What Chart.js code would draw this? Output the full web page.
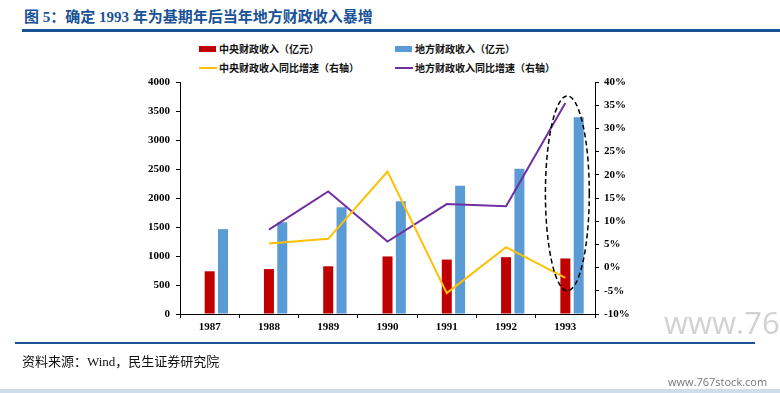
<!DOCTYPE html>
<html><head><meta charset="utf-8">
<script src="https://cdn.jsdelivr.net/npm/chart.js@4.4.1/dist/chart.umd.min.js"></script>
<style>
html,body{margin:0;padding:0;background:#fff;}
body{width:780px;height:393px;position:relative;overflow:hidden;font-family:"Liberation Serif","Noto Sans CJK SC",serif;}
#wrap{position:absolute;left:0;top:0;width:780px;height:393px;}
.t{position:absolute;white-space:nowrap;}
#title{left:24px;top:7px;font-size:15px;font-weight:700;color:#1a5296;line-height:20px;}
#rule1{position:absolute;left:22px;top:29px;width:758px;height:3px;background:#1a5296;}
#rule2{position:absolute;left:15px;top:342px;width:740px;height:2px;background:#1a5296;}
#src{left:22px;top:353px;font-size:13px;color:#111;line-height:18px;font-family:"Liberation Serif","Noto Sans CJK SC",serif;}
.lg{font-size:10px;font-weight:700;color:#111;line-height:14px;font-family:"Noto Sans CJK SC",sans-serif;}
.sw{position:absolute;}
#wm{left:664px;top:302px;font-size:31px;color:#d2d2d2;font-family:"Open Sans",sans-serif;line-height:40px;}
#wm2{left:668px;top:374px;font-size:11px;color:#777;font-family:"Open Sans",sans-serif;line-height:16px;}
#strip{position:absolute;left:0;top:389px;width:780px;height:4px;background:#cfdcea;}
</style></head>
<body>
<div id="title" class="t">图 5：确定 1993 年为基期年后当年地方财政收入暴增</div>
<div id="rule1"></div>
<div id="legend"></div>
<div id="wrap"><canvas id="c" width="780" height="393"></canvas></div>
<div id="rule2"></div>
<div id="src" class="t">资料来源：Wind，民生证券研究院</div>
<div id="wm" class="t">www.76</div>
<div id="wm2" class="t">www.767stock.com</div>
<div id="strip"></div>
<script>
// ---- data ----
const categories = ['1987','1988','1989','1990','1991','1992','1993'];
const centralRevenue = [736.29, 774.76, 822.52, 992.42, 938.25, 979.51, 957.51];
const localRevenue = [1463.06, 1582.48, 1842.38, 1944.68, 2211.23, 2503.86, 3391.44];
const centralGrowth = [null, 5.2, 6.2, 20.7, -5.5, 4.4, -2.2];
const localGrowth = [null, 8.2, 16.4, 5.6, 13.7, 13.2, 35.5];
const placeholderSeries = [null, null, null, null, null, null, null];
const seriesNames = ['中央财政收入（亿元）','地方财政收入（亿元）','中央财政收入同比增速（右轴）','地方财政收入同比增速（右轴）'];
const leftTicks = [0,500,1000,1500,2000,2500,3000,3500,4000];
const rightTicks = [-10,-5,0,5,10,15,20,25,30,35,40];
const highlightIndex = 6;
const highlightRange = [37, -5];

const colors = ['#C00000','#5B9BD5','#FFC000','#7030A0'];

// legend (HTML)
const legendPos = [[199,49,'box'],[395,49,'box'],[199,68,'line'],[395,68,'line']];
const lg = document.getElementById('legend');
seriesNames.forEach((n,i)=>{
  const [x,y,kind] = legendPos[i];
  const sw = document.createElement('div');
  sw.className='sw';
  if(kind==='box'){ sw.style.cssText=`left:${x}px;top:${y-3}px;width:17px;height:6px;background:${colors[i]};`; }
  else { sw.style.cssText=`left:${x}px;top:${y-1}px;width:18px;height:2px;background:${colors[i]};`; }
  lg.appendChild(sw);
  const t = document.createElement('div');
  t.className='t lg';
  t.style.left=(x+20)+'px'; t.style.top=(y-7)+'px';
  t.textContent=n;
  lg.appendChild(t);
});

const tickFont = {family:'"Liberation Serif", serif', size:11, weight:'bold'};

const ellipsePlugin = {
  id:'ellipse',
  afterDatasetsDraw(chart){
    const xs = chart.scales.x, ys = chart.scales.y1, ctx = chart.ctx;
    const cx = xs.getPixelForValue(highlightIndex) + 2;
    const top = ys.getPixelForValue(highlightRange[0]);
    const bot = ys.getPixelForValue(highlightRange[1]);
    const rx = (xs.getPixelForValue(1)-xs.getPixelForValue(0))*0.37;
    ctx.save();
    ctx.beginPath();
    ctx.setLineDash([5,3]);
    ctx.lineWidth=1.5;
    ctx.strokeStyle='#000';
    ctx.ellipse(cx,(top+bot)/2,rx,(bot-top)/2,0,0,Math.PI*2);
    ctx.stroke();
    ctx.restore();
  }
};

new Chart(document.getElementById('c'),{
  data:{
    labels:categories,
    datasets:[
      {type:'bar',label:'',data:placeholderSeries,backgroundColor:'#1F3864',yAxisID:'y',order:1},
      {type:'bar',label:seriesNames[0],data:centralRevenue,backgroundColor:colors[0],yAxisID:'y',order:1},
      {type:'bar',label:seriesNames[1],data:localRevenue,backgroundColor:colors[1],yAxisID:'y',order:1},
      {type:'line',label:seriesNames[2],data:centralGrowth,borderColor:colors[2],borderWidth:2,pointRadius:0,tension:0,yAxisID:'y1',order:0,spanGaps:false},
      {type:'line',label:seriesNames[3],data:localGrowth,borderColor:colors[3],borderWidth:2,pointRadius:0,tension:0,yAxisID:'y1',order:0,spanGaps:false}
    ]
  },
  options:{
    responsive:false,
    animation:false,
    devicePixelRatio:1,
    datasets:{bar:{barPercentage:0.75,categoryPercentage:0.675}},
    layout:{padding:{left:130,right:135,top:82,bottom:54}},
    plugins:{legend:{display:false},tooltip:{enabled:false}},
    scales:{
      x:{
        offset:true,
        grid:{display:true,drawOnChartArea:false,drawTicks:true,tickLength:4,color:'#000',offset:true},
        border:{display:true,color:'#000',width:1},
        ticks:{font:tickFont,color:'#000',padding:3,maxRotation:0},
        afterFit(s){s.height=25;}
      },
      y:{
        position:'left',min:0,max:4000,
        afterBuildTicks(s){s.ticks=leftTicks.map(v=>({value:v}));},
        grid:{display:true,drawOnChartArea:false,drawTicks:true,tickLength:4,color:'#000'},
        border:{display:true,color:'#000',width:1},
        ticks:{font:tickFont,color:'#000',padding:6,callback:v=>String(v)},
        afterFit(s){s.width=50;}
      },
      y1:{
        position:'right',min:-10,max:40,
        afterBuildTicks(s){s.ticks=rightTicks.map(v=>({value:v}));},
        grid:{display:true,drawOnChartArea:false,drawTicks:true,tickLength:4,color:'#000'},
        border:{display:true,color:'#000',width:1},
        ticks:{font:tickFont,color:'#000',padding:5,callback:v=>v+'%'},
        afterFit(s){s.width=50;}
      }
    }
  },
  plugins:[ellipsePlugin]
});
</script>
</body></html>
